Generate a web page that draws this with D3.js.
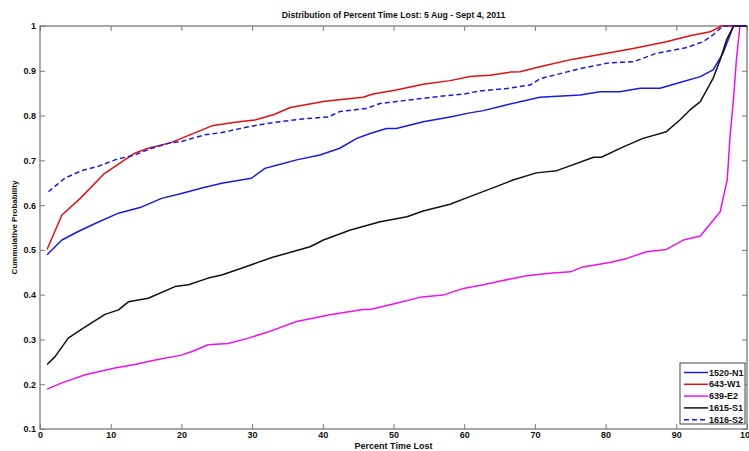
<!DOCTYPE html>
<html>
<head>
<meta charset="utf-8">
<script src="https://cdn.jsdelivr.net/npm/d3@7"></script>
<style>
  html, body { margin: 0; padding: 0; background: #fff; }
  svg { display: block; font-family: Arial, "Liberation Sans", sans-serif; }
  .lbl { font-weight: bold; fill: #111; }
</style>
</head>
<body>
<svg id="chart" width="749" height="451"></svg>
<script>
// Empirical cumulative curves: [percent time lost, cumulative probability]
const n1520 = [[1,0.489],[3.1,0.522],[5.4,0.541],[7.8,0.559],[11.1,0.582],[14.4,0.596],[17.2,0.615],[20,0.626],[22.9,0.638],[25.7,0.649],[29.9,0.660],[31.8,0.682],[33.2,0.688],[36.3,0.701],[39.6,0.712],[42.4,0.727],[44.8,0.749],[46.7,0.760],[49,0.771],[50.4,0.771],[54.2,0.786],[58,0.797],[60.8,0.806],[62.7,0.811],[65.5,0.822],[70.7,0.841],[76.4,0.846],[79.2,0.853],[82,0.853],[84.9,0.861],[87.7,0.861],[90.5,0.874],[93.4,0.887],[95.2,0.902],[96.6,0.939],[98.1,1.0],[100,1.0]];
const w643 = [[1,0.501],[3.1,0.578],[5.7,0.615],[9,0.669],[13.4,0.716],[15.3,0.727],[18.4,0.739],[20,0.749],[24.3,0.777],[27.6,0.785],[30.4,0.790],[33.2,0.803],[35.4,0.818],[40.3,0.832],[45.7,0.841],[47.1,0.848],[50.4,0.857],[54.2,0.870],[58,0.878],[60.8,0.887],[63.6,0.890],[66.5,0.897],[67.9,0.898],[70.7,0.909],[75.4,0.926],[80.2,0.939],[83.9,0.950],[88.6,0.965],[91.9,0.978],[94.8,0.987],[96.4,1.0],[100,1.0]];
const e639 = [[1,0.189],[3.1,0.203],[6.4,0.221],[10.6,0.236],[13.4,0.244],[16.3,0.254],[20,0.265],[21.5,0.273],[23.8,0.288],[26.6,0.291],[29.5,0.303],[32.3,0.317],[36.3,0.340],[41,0.355],[45.7,0.367],[46.7,0.367],[50.4,0.381],[53.7,0.394],[57,0.399],[59.9,0.414],[62.7,0.422],[65.3,0.431],[68.8,0.442],[72.1,0.448],[75,0.451],[76.8,0.462],[80.6,0.472],[83,0.481],[85.8,0.496],[88.6,0.501],[91,0.522],[93.4,0.531],[96.2,0.585],[97.2,0.656],[97.6,0.753],[98.1,0.84],[98.5,0.924],[99,1.0],[100,1.0]];
const s1615 = [[1,0.244],[2.1,0.261],[4,0.303],[5.9,0.323],[9.2,0.356],[11.1,0.366],[12.5,0.384],[15.3,0.392],[19.1,0.418],[21,0.422],[23.8,0.437],[25.7,0.444],[28.5,0.459],[32.8,0.483],[38.2,0.507],[40.1,0.522],[43.8,0.544],[48.1,0.563],[51.9,0.574],[54.2,0.587],[58,0.602],[60.8,0.619],[64.8,0.643],[66.9,0.656],[70.2,0.672],[73.1,0.677],[78.3,0.707],[79.4,0.707],[82.5,0.730],[85.3,0.749],[88.6,0.764],[90.5,0.790],[91.9,0.812],[93.4,0.831],[95.2,0.883],[96.2,0.924],[97.1,0.969],[98.1,1.0],[100,1.0]];
const s1616 = [[1.2,0.630],[3.5,0.660],[5.9,0.677],[8.3,0.687],[10.6,0.701],[13.4,0.712],[15.8,0.727],[18.4,0.739],[20,0.742],[23.3,0.757],[25.7,0.762],[29.5,0.775],[32.4,0.783],[36.8,0.792],[40.8,0.797],[42.4,0.809],[46.2,0.816],[48.1,0.827],[52.3,0.835],[56.1,0.842],[59.9,0.848],[62.2,0.855],[65.8,0.860],[69.3,0.868],[70.7,0.882],[76.4,0.905],[80.6,0.918],[83.9,0.920],[87.2,0.939],[91.5,0.952],[93.8,0.965],[95.2,0.980],[96.6,1.0],[100,1.0]];

const seriesNames = ["1520-N1", "643-W1", "639-E2", "1615-S1", "1616-S2"];
const seriesData = [n1520, w643, e639, s1615, s1616];
const seriesColors = ["#1a1adc", "#e01010", "#ee10ee", "#111111", "#1a1adc"];
const seriesDash = [null, null, null, null, "5,3"];

const xTicks = [0, 10, 20, 30, 40, 50, 60, 70, 80, 90, 100];
const yTicks = [0.1, 0.2, 0.3, 0.4, 0.5, 0.6, 0.7, 0.8, 0.9, 1];

const titleText = "Distribution of Percent Time Lost: 5 Aug - Sept 4, 2011";
const xLabel = "Percent Time Lost";
const yLabel = "Cummulative Probability";

const svg = d3.select("#chart");
const m = { left: 40, right: 747, top: 26, bottom: 429 };

const x = d3.scaleLinear().domain([0, 100]).range([m.left, m.right]);
const y = d3.scaleLinear().domain([0.1, 1]).range([m.bottom, m.top]);

const axisColor = "#7a7a7a";
const tickLen = 5;

// frame
svg.append("rect")
  .attr("x", m.left).attr("y", m.top)
  .attr("width", m.right - m.left).attr("height", m.bottom - m.top)
  .attr("fill", "none").attr("stroke", axisColor).attr("stroke-width", 1.3);

function styleAxis(g) {
  g.select(".domain").remove();
  g.selectAll(".tick line").attr("stroke", axisColor).attr("stroke-width", 1);
  g.selectAll(".tick text").attr("class", "lbl").attr("font-size", 9).attr("fill", "#111");
}

// bottom axis, ticks pointing inward
svg.append("g").attr("transform", `translate(0,${m.bottom})`)
  .call(d3.axisBottom(x).tickValues(xTicks).tickFormat(d3.format("d")).tickSizeInner(-tickLen).tickSizeOuter(0).tickPadding(3))
  .call(styleAxis)
  .call(g => g.selectAll(".tick text").attr("dy", "0.71em"));
// top axis, ticks only
svg.append("g").attr("transform", `translate(0,${m.top})`)
  .call(d3.axisTop(x).tickValues(xTicks).tickFormat("").tickSizeInner(-tickLen).tickSizeOuter(0))
  .call(styleAxis);
// left axis
svg.append("g").attr("transform", `translate(${m.left},0)`)
  .call(d3.axisLeft(y).tickValues(yTicks).tickFormat(d => d === 1 ? "1" : d3.format(".1f")(d)).tickSizeInner(-tickLen).tickSizeOuter(0).tickPadding(4))
  .call(styleAxis);
// right axis, ticks only
svg.append("g").attr("transform", `translate(${m.right},0)`)
  .call(d3.axisRight(y).tickValues(yTicks).tickFormat("").tickSizeInner(-tickLen).tickSizeOuter(0))
  .call(styleAxis);

// curves
const line = d3.line().x(d => x(d[0])).y(d => y(d[1]));
const plot = svg.append("g");
seriesData.forEach((data, i) => {
  plot.append("path")
    .datum(data)
    .attr("d", line)
    .attr("fill", "none")
    .attr("stroke", seriesColors[i])
    .attr("stroke-width", 1.5)
    .attr("stroke-linejoin", "round")
    .attr("stroke-dasharray", seriesDash[i]);
});

// titles
svg.append("text").attr("class", "lbl")
  .attr("x", (m.left + m.right) / 2).attr("y", 18)
  .attr("text-anchor", "middle").attr("font-size", 8.7).text(titleText);
svg.append("text").attr("class", "lbl")
  .attr("x", (m.left + m.right) / 2).attr("y", 449)
  .attr("text-anchor", "middle").attr("font-size", 9).text(xLabel);
svg.append("text").attr("class", "lbl")
  .attr("transform", `translate(17,${(m.top + m.bottom) / 2}) rotate(-90)`)
  .attr("text-anchor", "middle").attr("font-size", 8).text(yLabel);

// legend
const leg = svg.append("g");
const lx = 680, ly = 363, lw = 65, lh = 61;
leg.append("rect").attr("x", lx).attr("y", ly).attr("width", lw).attr("height", lh)
  .attr("fill", "#fff").attr("stroke", "#444").attr("stroke-width", 1);
seriesNames.forEach((name, i) => {
  const yy = ly + 9.5 + i * 11.8;
  leg.append("line")
    .attr("x1", lx + 4).attr("x2", lx + 28).attr("y1", yy).attr("y2", yy)
    .attr("stroke", seriesColors[i]).attr("stroke-width", 1.5)
    .attr("stroke-dasharray", seriesDash[i]);
  leg.append("text").attr("class", "lbl")
    .attr("x", lx + 29).attr("y", yy).attr("dy", "0.35em")
    .attr("font-size", 9).text(name);
});
</script>
</body>
</html>
